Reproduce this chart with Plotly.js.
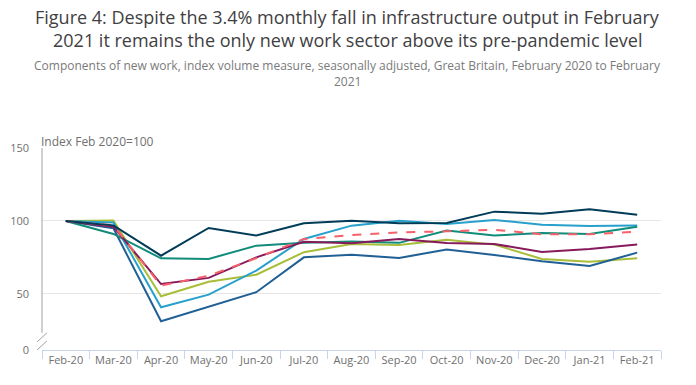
<!DOCTYPE html>
<html>
<head>
<meta charset="utf-8">
<script src="https://cdn.plot.ly/plotly-3.0.1.min.js"></script>
<style>html,body{margin:0;padding:0;background:#fff;}#chart{width:696px;height:385px;}</style>
</head>
<body>
<div id="chart"></div>
<script>
var months = ["Feb-20","Mar-20","Apr-20","May-20","Jun-20","Jul-20","Aug-20","Sep-20","Oct-20","Nov-20","Dec-20","Jan-21","Feb-21"];
var infrastructure = [100, 97, 76.2, 95.2, 90, 98.4, 100.2, 98.4, 98.6, 106.4, 105, 108, 104.3];
var publicOther     = [100, 91.1, 74.4, 74, 83.1, 85, 86, 85, 93.4, 90, 91.8, 91.1, 96.1];
var privateCommercial = [100, 99, 40.9, 49.5, 66, 87.7, 96.8, 100.2, 98, 100.7, 97.5, 96.6, 96.9];
var privateHousing  = [100, 95, 31.3, 41.3, 51.2, 75.1, 76.9, 74.7, 80.4, 76.7, 72.4, 69.2, 78.3];
var privateIndustrial = [100, 100.3, 48.4, 58.4, 63.2, 78.6, 84.2, 83.6, 87.2, 83.8, 74, 72.1, 74.4];
var publicHousing   = [100, 96.1, 56.8, 61, 75.1, 85.8, 84.7, 87.7, 84.9, 84.2, 78.8, 80.8, 83.8];
var allNewWork      = [100, 97, 55.7, 62.5, 74.5, 87.7, 90.4, 92.2, 92.9, 94, 90.9, 90.9, 92.7];
var yTickVals = [11.6, 50, 100, 150];
var yTickText = ["0", "50", "100", "150"];

var seriesNames = ["Private industrial new work","Private housing new work","Private commercial new work","Public other new work","Public housing new work","All new work","Infrastructure new work"];
var seriesData = [privateIndustrial, privateHousing, privateCommercial, publicOther, publicHousing, allNewWork, infrastructure];
var seriesColors = ["#a8bd3a","#206095","#27a0cc","#118c7b","#871a5b","#f66068","#003c57"];
var seriesDash = ["solid","solid","solid","solid","solid","dash","solid"];

var traces = seriesNames.map(function(n, i){
  return {x: months, y: seriesData[i], name: n, type: "scatter", mode: "lines",
    line: {color: seriesColors[i], width: 2, dash: seriesDash[i]}, hoverinfo: "skip"};
});

var ph = 385 - 148 - 35;
function py(pix){ return 1 + (148 - pix) / ph; }

var layout = {
  width: 696, height: 385,
  margin: {l: 42, r: 35, t: 148, b: 35},
  paper_bgcolor: "#fff", plot_bgcolor: "#fff",
  font: {family: "Open Sans, sans-serif", color: "#707070", size: 11},
  showlegend: false,
  xaxis: {type: "category", range: [-0.5, 12.5], tickson: "boundaries", ticks: "outside", ticklen: 8, tickcolor: "#c8d4ec",
    showline: true, linecolor: "#c8d4ec", linewidth: 1, showgrid: false, zeroline: false,
    tickfont: {size: 11, color: "#707070"}, fixedrange: true},
  yaxis: {range: [11.6, 150], tickvals: yTickVals, ticktext: yTickText, showgrid: true, gridcolor: "#e6e6e6", gridwidth: 1,
    zeroline: false, showline: false, ticks: "", ticklabelstandoff: 12, tickfont: {size: 11, color: "#707070"}, fixedrange: true},
  annotations: [
    {text: "Figure 4: Despite the 3.4% monthly fall in infrastructure output in February",
     xref: "paper", yref: "paper", x: 0.5, xanchor: "center", xshift: -4, y: py(17), yanchor: "middle", showarrow: false,
     font: {size: 18, color: "#414042"}},
    {text: "2021 it remains the only new work sector above its pre-pandemic level",
     xref: "paper", yref: "paper", x: 0.5, xanchor: "center", xshift: -4, y: py(40), yanchor: "middle", showarrow: false,
     font: {size: 18, color: "#414042"}},
    {text: "Components of new work, index volume measure, seasonally adjusted, Great Britain, February 2020 to February",
     xref: "paper", yref: "paper", x: 0.5, xanchor: "center", xshift: -4, y: py(65), yanchor: "middle", showarrow: false,
     font: {size: 12, color: "#7a7a7a"}},
    {text: "2021",
     xref: "paper", yref: "paper", x: 0.5, xanchor: "center", xshift: -4, y: py(82), yanchor: "middle", showarrow: false,
     font: {size: 12, color: "#7a7a7a"}},
    {text: "Index Feb 2020=100", xref: "paper", yref: "paper", x: 0, xanchor: "left", y: py(141), yanchor: "middle", showarrow: false,
     font: {size: 12, color: "#707070"}, xshift: -3}
  ],
  shapes: [
    {type: "line", xref: "paper", yref: "paper", x0: 0, x1: 0, y0: 1, y1: 0.085, line: {color: "#a0a0a0", width: 1}},
    {type: "line", xref: "paper", yref: "paper", x0: -0.008, x1: 0.008, y0: 0.04, y1: 0.085, line: {color: "#a0a0a0", width: 1}},
    {type: "line", xref: "paper", yref: "paper", x0: -0.008, x1: 0.008, y0: 0.0, y1: 0.045, line: {color: "#a0a0a0", width: 1}}
  ]
};

Plotly.newPlot("chart", traces, layout, {displayModeBar: false, staticPlot: true});
</script>
</body>
</html>
